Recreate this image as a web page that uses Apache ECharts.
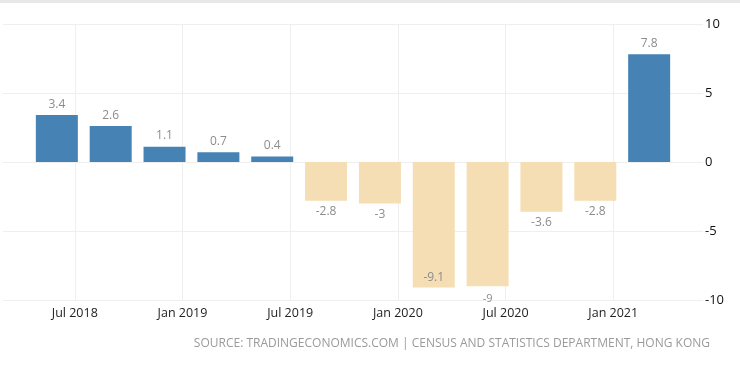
<!DOCTYPE html>
<html>
<head>
<meta charset="utf-8">
<script src="https://cdn.jsdelivr.net/npm/echarts@6/dist/echarts.min.js"></script>
<style>
html,body{margin:0;padding:0;background:#fff;}
#c{width:740px;height:367px;}
</style>
</head>
<body>
<div id="c"></div>
<script>
// Quarterly observations (month of the data point) and values
var quarters = ['2018-06','2018-09','2018-12','2019-03','2019-06','2019-09','2019-12','2020-03','2020-06','2020-09','2020-12','2021-03'];
var values = [3.4, 2.6, 1.1, 0.7, 0.4, -2.8, -3, -9.1, -9, -3.6, -2.8, 7.8];
// Monthly axis range
var axisStart = '2018-03';
var axisEnd = '2021-06';
var yTicks = [-10, -5, 0, 5, 10];
var sourceText = 'SOURCE: TRADINGECONOMICS.COM | CENSUS AND STATISTICS DEPARTMENT, HONG KONG';

var monNames = ['Jan','Feb','Mar','Apr','May','Jun','Jul','Aug','Sep','Oct','Nov','Dec'];
function buildMonths(a, b) {
  var out = [];
  var y = +a.slice(0,4), m = +a.slice(5,7);
  var ey = +b.slice(0,4), em = +b.slice(5,7);
  while (y < ey || (y === ey && m <= em)) {
    out.push(y + '-' + (m < 10 ? '0' + m : m));
    m++; if (m > 12) { m = 1; y++; }
  }
  return out;
}
var months = buildMonths(axisStart, axisEnd);
var data = months.map(function (mo) {
  var i = quarters.indexOf(mo);
  if (i < 0) return null;
  var v = values[i];
  var item = { value: v, itemStyle: { color: v >= 0 ? '#4682B4' : '#F5DEB3' } };
  if (v >= 0) {
    item.label = { position: 'top' };
  } else if (v === -9.1) {
    item.label = { position: 'insideBottom', distance: 4 };
  } else if (v === -9) {
    item.label = { position: 'bottom', distance: 7, fontSize: 11 };
  } else {
    item.label = { position: 'bottom' };
  }
  return item;
});
function isTickMonth(idx) {
  var mo = months[idx];
  var m = mo.slice(5,7);
  return m === '01' || m === '07';
}

var chart = echarts.init(document.getElementById('c'));
chart.setOption({
  animation: false,
  backgroundColor: '#fff',
  grid: { left: 3, right: 37, top: 24, bottom: 67, containLabel: false },
  xAxis: {
    type: 'category',
    data: months,
    boundaryGap: false,
    axisLine: { show: false },
    axisTick: { show: false },
    axisLabel: {
      interval: function (idx) { return isTickMonth(idx); },
      formatter: function (v) { return monNames[+v.slice(5,7) - 1] + ' ' + v.slice(0,4); },
      color: '#222', fontSize: 12.5, fontFamily: 'Open Sans', margin: 7
    },
    splitLine: {
      show: true,
      interval: function (idx) { return isTickMonth(idx); },
      lineStyle: { color: '#efefef', width: 1 }
    }
  },
  yAxis: {
    type: 'value',
    position: 'right',
    min: yTicks[0], max: yTicks[yTicks.length - 1], interval: 5,
    axisLine: { show: false },
    axisTick: { show: false },
    axisLabel: { color: '#111', fontSize: 13, fontFamily: 'Open Sans', margin: 2 },
    splitLine: { lineStyle: { color: '#efefef', width: 1 } }
  },
  series: [{
    type: 'bar',
    data: data,
    barWidth: 42,
    label: {
      show: true,
      color: '#8c8c8c',
      fontSize: 12,
      fontFamily: 'Open Sans',
      distance: 5
    }
  }],
  graphic: [
    { type: 'rect', left: 0, top: 0, shape: { width: 740, height: 3 }, style: { fill: '#e8e8e8' } },
    { type: 'text', right: 30, top: 338,
      style: { text: sourceText, fill: '#9a9a9a', fontSize: 12, fontFamily: 'Open Sans' } }
  ]
});
</script>
</body>
</html>
